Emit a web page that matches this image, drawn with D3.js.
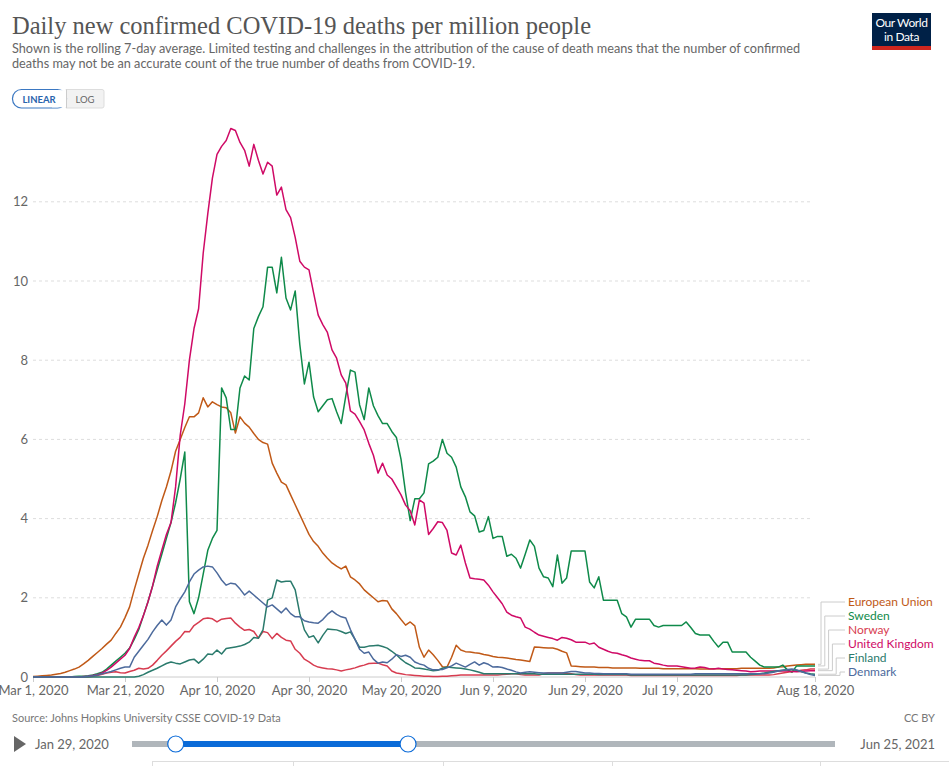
<!DOCTYPE html>
<html>
<head>
<meta charset="utf-8">
<script src="https://cdnjs.cloudflare.com/ajax/libs/d3/7.8.5/d3.min.js"></script>
<style>
body { margin: 0; background: #fff; }
svg { display: block; font-family: Lato, "Open Sans", sans-serif; }
</style>
</head>
<body>
<svg id="chart" width="949" height="766"></svg>
<script>

//
// Data (daily values, rolling 7-day average)
//
var start_date = "2020-03-01";
var end_date = "2020-08-18";

var countries = ["European Union", "Sweden", "Norway", "United Kingdom", "Finland", "Denmark"];
var colors = ["#c05917", "#0f8a4a", "#d73c50", "#cf0a66", "#2a7a6c", "#4c6a9c"];

var european_union = [
    0.01,0.02,0.03,0.04,0.05,0.07,0.09,0.12,0.16,0.2,
    0.25,0.33,0.42,0.52,0.62,0.72,0.83,0.93,1.1,1.26,
    1.5,1.77,2.2,2.6,3.0,3.33,3.7,4.05,4.45,4.8,
    5.2,5.7,6.0,6.3,6.57,6.57,6.67,7.05,6.82,6.95,
    6.88,6.82,6.8,6.67,6.16,6.57,6.41,6.31,6.15,6.0,
    5.92,5.88,5.4,5.15,4.92,4.85,4.6,4.35,4.1,3.85,
    3.6,3.42,3.3,3.13,3.0,2.88,2.8,2.73,2.8,2.53,
    2.45,2.35,2.2,2.1,2.0,1.9,1.93,1.92,1.72,1.6,
    1.45,1.31,1.39,1.29,0.75,0.5,0.68,0.56,0.42,0.26,
    0.25,0.5,0.8,0.68,0.64,0.63,0.61,0.6,0.57,0.55,
    0.52,0.5,0.49,0.48,0.46,0.44,0.43,0.41,0.39,0.76,
    0.75,0.74,0.73,0.73,0.7,0.65,0.61,0.28,0.27,0.26,
    0.25,0.25,0.25,0.24,0.24,0.24,0.23,0.23,0.23,0.23,
    0.23,0.23,0.22,0.22,0.22,0.22,0.22,0.21,0.21,0.21,
    0.21,0.21,0.21,0.21,0.21,0.2,0.2,0.2,0.21,0.21,
    0.21,0.21,0.21,0.21,0.22,0.22,0.22,0.22,0.22,0.22,
    0.22,0.23,0.25,0.26,0.28,0.29,0.3,0.31,0.32,0.32,0.32
];

var sweden = [
    0,0,0,0,0,0,0,0,0,0.01,
    0.02,0.02,0.03,0.05,0.08,0.12,0.2,0.3,0.4,0.5,
    0.6,0.73,0.95,1.2,1.55,1.9,2.3,2.7,3.1,3.5,
    3.9,4.4,5.0,5.68,1.9,1.6,2.0,2.6,3.2,3.5,
    3.7,7.3,7.05,6.25,6.25,7.3,7.6,7.5,8.8,9.1,
    9.35,10.35,10.35,9.7,10.6,9.57,9.27,9.75,8.4,7.4,
    7.95,7.07,6.7,6.85,7.0,7.03,6.7,6.4,7.1,7.75,
    7.7,6.87,6.5,7.3,6.85,6.6,6.4,6.4,6.2,6.05,
    5.5,4.65,3.95,4.5,4.5,4.65,5.38,5.45,5.55,6.0,
    5.65,5.55,5.3,4.8,4.55,4.17,4.07,3.66,3.7,4.05,
    3.5,3.55,3.55,3.05,3.1,3.0,2.75,3.1,3.46,3.3,
    2.75,2.53,2.5,2.28,3.08,2.37,2.5,3.18,3.18,3.18,
    3.18,2.4,2.25,2.53,1.94,1.94,1.94,1.94,1.6,1.52,
    1.26,1.46,1.46,1.46,1.46,1.3,1.26,1.3,1.3,1.3,
    1.3,1.3,1.39,1.25,1.1,1.06,1.06,1.06,0.9,0.76,
    0.88,0.88,0.63,0.63,0.63,0.63,0.5,0.4,0.3,0.25,
    0.25,0.25,0.25,0.3,0.18,0.12,0.28,0.28,0.28,0.28,0.28
];

var norway = [
    0,0,0,0,0,0,0,0,0,0,
    0,0,0,0.02,0.04,0.07,0.1,0.12,0.13,0.11,
    0.1,0.14,0.17,0.22,0.2,0.22,0.3,0.42,0.55,0.66,
    0.78,0.9,1.0,1.15,1.14,1.3,1.38,1.47,1.49,1.47,
    1.39,1.46,1.48,1.49,1.36,1.26,1.18,1.2,1.15,0.98,
    1.15,1.12,0.97,1.1,1.0,0.93,0.91,0.7,0.6,0.45,
    0.38,0.3,0.25,0.23,0.21,0.2,0.18,0.15,0.18,0.2,
    0.23,0.27,0.3,0.34,0.35,0.35,0.31,0.28,0.15,0.1,
    0.08,0.06,0.05,0.04,0.03,0.02,0.02,0.01,0.01,0.02,
    0.02,0.03,0.04,0.05,0.05,0.05,0.05,0.05,0.05,0.05,
    0.05,0.05,0.06,0.07,0.08,0.08,0.06,0.05,0.05,0.05,
    0.05,0.08,0.1,0.1,0.1,0.1,0.09,0.08,0.06,0.05,
    0.05,0.05,0.05,0.05,0.05,0.05,0.05,0.05,0.05,0.05,
    0.04,0.04,0.04,0.04,0.04,0.04,0.04,0.04,0.04,0.04,
    0.04,0.04,0.04,0.04,0.04,0.04,0.04,0.04,0.04,0.04,
    0.04,0.04,0.04,0.04,0.05,0.05,0.05,0.05,0.05,0.05,
    0.05,0.06,0.08,0.1,0.12,0.14,0.15,0.17,0.18,0.2,0.2
];

var united_kingdom = [
    0,0,0,0,0,0,0,0,0,0,
    0,0.01,0.02,0.04,0.06,0.1,0.17,0.25,0.35,0.45,
    0.55,0.72,1.0,1.25,1.55,1.9,2.3,2.8,3.2,3.6,
    3.9,4.8,6.1,6.9,8.0,8.8,9.3,10.7,11.7,12.6,
    13.2,13.4,13.55,13.85,13.8,13.5,13.3,12.9,13.45,13.05,
    12.7,13.0,12.9,12.17,12.37,11.8,11.6,11.1,10.5,10.35,
    10.28,9.7,9.14,8.9,8.7,8.26,8.05,7.63,7.42,6.72,
    6.64,6.45,6.24,5.9,5.6,5.15,5.4,5.1,5.0,4.8,
    4.6,4.34,4.2,3.84,4.47,4.39,3.6,3.75,3.92,3.9,
    3.7,3.13,3.08,3.33,2.88,2.5,2.48,2.47,2.45,2.32,
    2.15,2.0,1.85,1.64,1.56,1.52,1.49,1.26,1.21,1.13,
    1.06,1.03,1.0,0.97,0.93,1.0,0.98,0.94,0.88,0.88,
    0.88,0.83,0.86,0.75,0.7,0.65,0.61,0.6,0.56,0.53,
    0.48,0.45,0.42,0.41,0.41,0.35,0.33,0.3,0.28,0.28,
    0.28,0.26,0.24,0.22,0.23,0.25,0.24,0.21,0.2,0.22,
    0.2,0.19,0.18,0.17,0.16,0.15,0.13,0.14,0.15,0.15,
    0.15,0.15,0.15,0.15,0.15,0.14,0.13,0.14,0.15,0.16,0.16
];

var finland = [
    0,0,0,0,0,0,0,0,0,0,
    0,0,0,0,0,0,0,0,0,0,
    0,0,0,0.02,0.06,0.12,0.17,0.22,0.28,0.34,
    0.38,0.35,0.33,0.38,0.43,0.45,0.35,0.45,0.58,0.57,
    0.68,0.58,0.72,0.74,0.76,0.78,0.82,0.88,1.0,0.98,
    1.19,1.94,2.0,2.45,2.4,2.42,2.42,2.2,1.6,1.19,
    1.0,1.04,0.86,1.05,1.21,1.2,1.19,1.15,1.1,1.14,
    0.95,0.75,0.75,0.78,0.79,0.8,0.77,0.73,0.65,0.56,
    0.45,0.36,0.3,0.23,0.22,0.2,0.18,0.16,0.17,0.22,
    0.25,0.24,0.23,0.22,0.2,0.18,0.15,0.12,0.08,0.08,
    0.08,0.08,0.08,0.08,0.08,0.08,0.08,0.08,0.08,0.08,
    0.07,0.07,0.07,0.07,0.07,0.07,0.07,0.07,0.07,0.07,
    0.07,0.07,0.07,0.06,0.06,0.06,0.06,0.06,0.06,0.06,
    0.05,0.05,0.05,0.05,0.05,0.05,0.05,0.05,0.05,0.05,
    0.05,0.05,0.05,0.05,0.05,0.05,0.05,0.05,0.05,0.05,
    0.05,0.05,0.05,0.05,0.05,0.05,0.06,0.07,0.08,0.1,
    0.12,0.14,0.16,0.17,0.18,0.18,0.17,0.14,0.1,0.08,0.07
];

var denmark = [
    0,0,0,0,0,0,0,0,0,0,
    0,0,0.02,0.03,0.05,0.08,0.11,0.14,0.18,0.22,
    0.25,0.25,0.5,0.65,0.8,0.95,1.14,1.3,1.44,1.31,
    1.44,1.77,1.97,2.15,2.4,2.6,2.7,2.78,2.8,2.78,
    2.63,2.45,2.32,2.37,2.35,2.22,2.07,2.17,2.07,1.97,
    1.87,1.77,1.82,1.72,1.62,1.74,1.6,1.52,1.52,1.42,
    1.39,1.37,1.36,1.45,1.58,1.67,1.58,1.52,1.49,1.2,
    0.95,0.7,0.6,0.63,0.45,0.35,0.38,0.36,0.45,0.56,
    0.52,0.55,0.5,0.38,0.33,0.3,0.22,0.18,0.18,0.19,
    0.23,0.28,0.35,0.3,0.25,0.32,0.38,0.3,0.36,0.32,
    0.25,0.26,0.24,0.2,0.17,0.13,0.1,0.12,0.13,0.12,
    0.11,0.1,0.1,0.1,0.1,0.1,0.12,0.14,0.14,0.12,
    0.1,0.1,0.09,0.09,0.08,0.08,0.08,0.08,0.08,0.08,
    0.07,0.07,0.07,0.07,0.07,0.07,0.07,0.07,0.07,0.07,
    0.07,0.07,0.07,0.07,0.08,0.08,0.08,0.08,0.08,0.08,
    0.08,0.08,0.08,0.08,0.08,0.08,0.08,0.08,0.08,0.08,
    0.1,0.12,0.15,0.17,0.19,0.2,0.18,0.14,0.1,0.06,0.04
];

var series_values = [european_union, sweden, norway, united_kingdom, finland, denmark];

var y_ticks = [0, 2, 4, 6, 8, 10, 12];
var x_tick_dates = ["2020-03-01", "2020-03-21", "2020-04-10", "2020-04-30", "2020-05-20",
                    "2020-06-09", "2020-06-29", "2020-07-19", "2020-08-18"];

var timeline_start = "2020-01-29";
var timeline_end = "2021-06-25";

var title = "Daily new confirmed COVID-19 deaths per million people";
var subtitle = [
    "Shown is the rolling 7-day average. Limited testing and challenges in the attribution of the cause of death means that the number of confirmed",
    "deaths may not be an accurate count of the true number of deaths from COVID-19."
];
var source = "Source: Johns Hopkins University CSSE COVID-19 Data";

//
// Setup
//
var parse = d3.timeParse("%Y-%m-%d");
var fmt = d3.timeFormat("%b %-d, %Y");
var start = parse(start_date);

var svg = d3.select("#chart");

var x = d3.scaleTime()
    .domain([start, parse(end_date)])
    .range([33, 815]);

var y = d3.scaleLinear()
    .domain([0, 14])
    .range([677, 677 - 14 * 39.6]);

//
// Header
//
svg.append("text")
    .attr("x", 12).attr("y", 34)
    .style("font-family", "'Liberation Serif', 'DejaVu Serif', serif")
    .style("font-size", "24.5px")
    .style("fill", "#555")
    .text(title);

svg.selectAll("text.subtitle")
    .data(subtitle)
    .enter()
    .append("text")
    .attr("class", "subtitle")
    .attr("x", 12)
    .attr("y", function (d, i) { return 53 + i * 15; })
    .style("font-size", "12.7px")
    .style("fill", "#666")
    .text(function (d) { return d; });

// Logo
var logo = svg.append("g");
logo.append("rect").attr("x", 872).attr("y", 13).attr("width", 59).attr("height", 37).style("fill", "#002147");
logo.append("rect").attr("x", 872).attr("y", 46).attr("width", 59).attr("height", 4).style("fill", "#ce261e");
logo.selectAll("text")
    .data(["Our World", "in Data"])
    .enter()
    .append("text")
    .attr("x", 901.5)
    .attr("y", function (d, i) { return 27 + i * 14; })
    .attr("text-anchor", "middle")
    .style("font-size", "12px")
    .style("letter-spacing", "-0.4px")
    .style("fill", "#fff")
    .text(function (d) { return d; });

// Linear / log toggle
var toggle = svg.append("g");
toggle.append("path")
    .attr("d", "M66,89.5 H102 a2,2 0 0 1 2,2 V106 a2,2 0 0 1 -2,2 H66 Z")
    .style("fill", "#f2f2f2").style("stroke", "#ddd");
toggle.append("rect")
    .attr("x", 12.5).attr("y", 89.5).attr("width", 54).attr("height", 18.5).attr("rx", 9)
    .style("fill", "#fff").style("stroke", "#3b78c2").style("stroke-width", 1.2);
toggle.append("rect")
    .attr("x", 52).attr("y", 90.1).attr("width", 14).attr("height", 17.3)
    .style("fill", "#fff");
toggle.append("line")
    .attr("x1", 66.5).attr("x2", 66.5).attr("y1", 89.5).attr("y2", 108)
    .style("stroke", "#ccc");
toggle.append("text").attr("x", 39).attr("y", 102.5).attr("text-anchor", "middle")
    .style("font-size", "9.5px").style("font-weight", "bold").style("fill", "#2a64ad").text("LINEAR");
toggle.append("text").attr("x", 85).attr("y", 102.5).attr("text-anchor", "middle")
    .style("font-size", "9.5px").style("fill", "#666").text("LOG");

//
// Axes
//
var grid = svg.append("g");
grid.selectAll("line")
    .data(y_ticks.filter(function (d) { return d > 0; }))
    .enter()
    .append("line")
    .attr("x1", 33).attr("x2", 812)
    .attr("y1", function (d) { return y(d); })
    .attr("y2", function (d) { return y(d); })
    .style("stroke", "#ddd")
    .style("stroke-dasharray", "3,3");

var yAxis = svg.append("g")
    .attr("transform", "translate(28,0)")
    .call(d3.axisLeft(y).tickValues(y_ticks).tickSize(0).tickPadding(0));
yAxis.select(".domain").remove();
yAxis.selectAll("text")
    .style("font-family", "Lato, sans-serif")
    .style("font-size", "13px")
    .style("fill", "#666");

var xAxis = svg.append("g")
    .attr("transform", "translate(0,677)")
    .call(d3.axisBottom(x)
        .tickValues(x_tick_dates.map(parse))
        .tickFormat(fmt)
        .tickSize(5)
        .tickPadding(4));
xAxis.select(".domain").remove();
xAxis.selectAll(".tick line").style("stroke", "#ccc");
xAxis.selectAll("text")
    .style("font-family", "Lato, sans-serif")
    .style("font-size", "13px")
    .style("fill", "#666");

svg.append("line")
    .attr("x1", 33).attr("x2", 815)
    .attr("y1", y(0)).attr("y2", y(0))
    .style("stroke", "#ccc");

//
// Lines
//
var line = d3.line()
    .x(function (d, i) { return x(d3.timeDay.offset(start, i)); })
    .y(function (d) { return y(d); });

svg.append("g")
    .selectAll("path")
    .data(series_values)
    .enter()
    .append("path")
    .attr("d", function (d) { return line(d); })
    .style("fill", "none")
    .style("stroke", function (d, i) { return colors[i]; })
    .style("stroke-width", 1.5)
    .style("stroke-linejoin", "round");

//
// Legend
//
var legend = svg.append("g");
var last_x = x(parse(end_date));

legend.selectAll("path")
    .data(series_values)
    .enter()
    .append("path")
    .attr("d", function (d, i) {
        var ly = 602 + i * 14;
        var ex = 821 + i * 3.8;
        return "M" + (last_x + 3) + "," + y(d[d.length - 1]) + " H" + ex + " V" + ly + " H845";
    })
    .style("fill", "none")
    .style("stroke", "#ccc");

legend.selectAll("text")
    .data(countries)
    .enter()
    .append("text")
    .attr("x", 848)
    .attr("y", function (d, i) { return 606 + i * 14; })
    .style("font-size", "12px")
    .style("fill", function (d, i) { return colors[i]; })
    .text(function (d) { return d; });

//
// Footer
//
svg.append("text")
    .attr("x", 12).attr("y", 722)
    .style("font-size", "11px").style("fill", "#777")
    .text(source);
svg.append("text")
    .attr("x", 935).attr("y", 722).attr("text-anchor", "end")
    .style("font-size", "11px").style("fill", "#777")
    .text("CC BY");

// Timeline
var t = d3.scaleTime()
    .domain([parse(timeline_start), parse(timeline_end)])
    .range([132, 833]);

svg.append("path")
    .attr("d", "M14,736 L26,744 L14,752 Z")
    .style("fill", "#666");
svg.append("text")
    .attr("x", 35).attr("y", 749)
    .style("font-size", "13px").style("fill", "#666")
    .text(fmt(parse(timeline_start)));
svg.append("text")
    .attr("x", 935).attr("y", 749).attr("text-anchor", "end")
    .style("font-size", "13px").style("fill", "#666")
    .text(fmt(parse(timeline_end)));

svg.append("rect")
    .attr("x", 132).attr("y", 741).attr("width", 835 - 132).attr("height", 6)
    .style("fill", "#b0b6bb");
svg.append("rect")
    .attr("x", t(start)).attr("y", 741)
    .attr("width", t(parse(end_date)) - t(start)).attr("height", 6)
    .style("fill", "#0b6bd8");
svg.selectAll("circle.handle")
    .data([start, parse(end_date)])
    .enter()
    .append("circle")
    .attr("class", "handle")
    .attr("cx", function (d) { return t(d); })
    .attr("cy", 744)
    .attr("r", 8)
    .style("fill", "#fff")
    .style("stroke", "#0b6bd8")
    .style("stroke-width", 1.2);

// Tabs strip
svg.append("line")
    .attr("x1", 152).attr("x2", 949).attr("y1", 761.5).attr("y2", 761.5)
    .style("stroke", "#ddd");
svg.selectAll("line.tab")
    .data([152, 293, 443, 612, 820])
    .enter()
    .append("line")
    .attr("class", "tab")
    .attr("x1", function (d) { return d + 0.5; })
    .attr("x2", function (d) { return d + 0.5; })
    .attr("y1", 761.5).attr("y2", 766)
    .style("stroke", "#ddd");

</script>
</body>
</html>
